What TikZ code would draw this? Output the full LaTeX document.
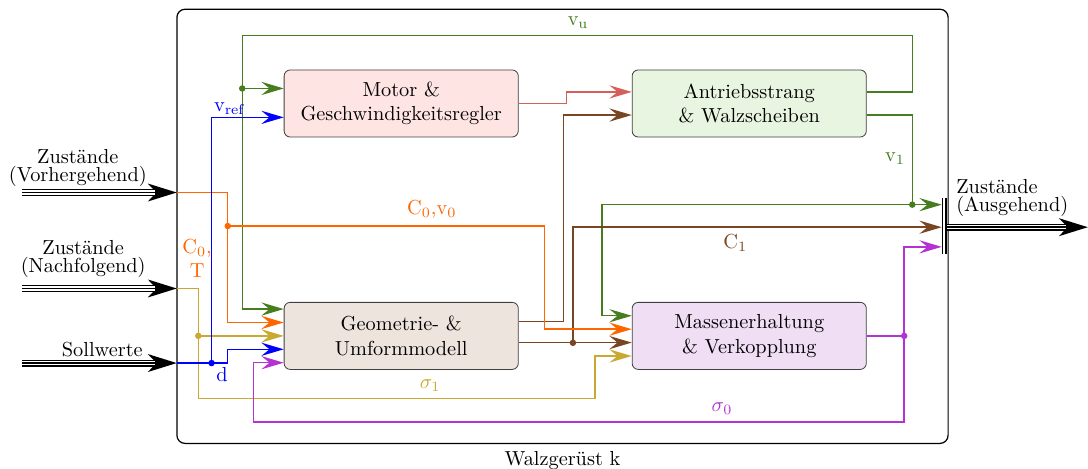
\documentclass[tikz,border=0pt]{standalone}
\usetikzlibrary{arrows.meta}
\definecolor{cgreen}{RGB}{70,125,30}
\definecolor{corange}{RGB}{255,102,0}
\definecolor{cbrown}{RGB}{120,70,35}
\definecolor{cred}{RGB}{215,95,90}
\definecolor{cblue}{RGB}{0,0,255}
\definecolor{cyellow}{RGB}{200,170,50}
\definecolor{cpurple}{RGB}{180,50,210}
\definecolor{fmotor}{RGB}{255,228,228}
\definecolor{fantrieb}{RGB}{232,245,224}
\definecolor{fgeom}{RGB}{238,228,222}
\definecolor{fmassen}{RGB}{240,222,245}
\begin{document}
\begin{tikzpicture}[
  block/.style={draw=black!75, rounded corners=3pt, minimum width=4.05cm, minimum height=1.16cm, align=center, inner sep=2pt},
  sig/.style={line width=0.7pt, -{Stealth[length=11pt,width=6.5pt,inset=4pt]}},
  triple/.style={line width=3.4pt, -{Stealth[length=14pt,width=8.5pt,inset=4pt]},
    postaction={draw=white, line width=2pt, -, shorten >=11pt},
    postaction={draw=black, line width=0.7pt, -, shorten >=10pt}},
  lbl/.style={inner sep=1pt}
]
\useasboundingbox (0,0) rectangle (18.82,8.10);

  % Rahmen
  \node[draw, rounded corners=4pt, minimum width=13.34cm, minimum height=7.51cm, semithick] (frame) at (9.73,4.185) {};
  \node[below] (lblFrame) at (frame.south) {Walzgerüst k};

  % Bloecke
  \node[block, fill=fmotor]   (motor)   at (6.94,6.31)  {Motor \&\\Geschwindigkeitsregler};
  \node[block, fill=fantrieb] (antrieb) at (12.96,6.31) {Antriebsstrang\\\& Walzscheiben};
  \node[block, fill=fgeom]    (geom)    at (6.94,2.29)  {Geometrie- \&\\Umformmodell};
  \node[block, fill=fmassen]  (massen)  at (12.96,2.29) {Massenerhaltung\\\& Verkopplung};

  % Ein- und Ausgaenge
  \coordinate (vorStart)  at (0.38,4.77);  \coordinate (vorIn)  at (3.06,4.77);
  \coordinate (nachStart) at (0.38,3.11);  \coordinate (nachIn) at (3.06,3.11);
  \coordinate (sollStart) at (0.38,1.82);  \coordinate (sollIn) at (3.06,1.82);
  \coordinate (bar) at (16.29,4.17);
  \coordinate (outStart) at (16.37,4.17);  \coordinate (outEnd) at (18.82,4.17);

  \draw[triple] (vorStart) -- (vorIn);
  \draw[triple] (nachStart) -- (nachIn);
  \draw[triple] (sollStart) -- (sollIn);
  \draw[triple] (outStart) -- (outEnd);
  \draw[semithick, double, double distance=1.2pt] (16.33,3.70) -- (16.33,4.67);

  \node[above left, lbl, align=center] (lblVor) at (2.58,4.825) {Zustände\\[-3pt](Vorhergehend)};
  \node[above left, lbl, align=center] (lblNach) at (2.56,3.255) {Zustände\\[-3pt](Nachfolgend)};
  \node[above left, lbl] (lblSoll) at (2.51,1.885) {Sollwerte};
  \node[above right, lbl, align=left] (lblAus) at (16.50,4.315) {Zustände\\[-3pt](Ausgehend)};

  % Verzweigungspunkte
  \coordinate (dotVu)   at (4.19,6.57);
  \coordinate (dotV1)   at (15.78,4.56);
  \coordinate (dotC0)   at (3.94,4.19);
  \coordinate (dotC1)   at (9.91,2.17);
  \coordinate (dotSig1) at (3.43,2.29);
  \coordinate (dotD)    at (3.66,1.82);
  \coordinate (dotSig0) at (15.64,2.29);

  % v_u
  \draw[sig, cgreen] ([yshift=0.20cm]antrieb.east) -| (15.78,7.49) -- (4.19,7.49) |- ([yshift=0.464cm]geom.west);
  \draw[sig, cgreen] (dotVu) -- (dotVu -| motor.west);
  \fill[cgreen] (dotVu) circle (1.6pt);
  \node[cgreen, above] (lblVu) at (10.0,7.49) {v$_\mathrm{u}$};

  % v_1
  \draw[sig, cgreen] ([yshift=-0.20cm]antrieb.east) -| (dotV1) -- (dotV1 -| bar);
  \draw[sig, cgreen] (dotV1) -- (10.41,4.56) |- ([yshift=0.348cm]massen.west);
  \fill[cgreen] (dotV1) circle (1.6pt);
  \node[cgreen, left] (lblV1) at (15.78,5.36) {v$_1$};

  % Motor -> Antrieb
  \draw[sig, cred] (motor.east) -- (9.80,6.31) |- ([yshift=0.20cm]antrieb.west);

  % C_1
  \draw[sig, cbrown] ([yshift=0.25cm]geom.east) -- ++(0.78,0) |- ([yshift=-0.20cm]antrieb.west);
  \draw[sig, cbrown] ([yshift=-0.116cm]geom.east) -- ([yshift=-0.116cm]massen.west);
  \draw[sig, cbrown] (dotC1) |- (bar);
  \fill[cbrown] (dotC1) circle (1.6pt);
  \node[cbrown, below] (lblC1) at (12.72,4.17) {C$_1$};

  % C_0
  \draw[sig, corange] (vorIn) -- (3.94,4.77) |- ([yshift=0.232cm]geom.west);
  \draw[sig, corange] (dotC0) -- (9.42,4.19) |- ([yshift=0.116cm]massen.west);
  \fill[corange] (dotC0) circle (1.6pt);
  \node[corange, above] (lblC0v0) at (7.47,4.19) {C$_0$,v$_0$};
  \node[corange, align=center] (lblC0T) at (3.41,3.63) {C$_0$,\\T};

  % sigma_1
  \draw[sig, cyellow] (nachIn) -- (3.43,3.11) |- (10.29,1.21) |- ([yshift=-0.348cm]massen.west);
  \draw[sig, cyellow] (dotSig1) -- (dotSig1 -| geom.west);
  \fill[cyellow] (dotSig1) circle (1.6pt);
  \node[cyellow, above] (lblSig1) at (7.44,1.21) {$\sigma_1$};

  % d, v_ref
  \draw[sig, cblue] (sollIn) -- (3.94,1.82) |- ([yshift=-0.232cm]geom.west);
  \draw[sig, cblue] (dotD) |- ([yshift=-0.24cm]motor.west);
  \fill[cblue] (dotD) circle (1.6pt);
  \node[cblue, above right, lbl] (lblVref) at (3.66,6.07) {v$_\mathrm{ref}$};
  \node[cblue, below right, lbl] (lblD) at (3.70,1.78) {d};

  % sigma_0
  \draw[sig, cpurple] (massen.east) -- (dotSig0) |- (4.38,0.80) |- ([yshift=-0.464cm]geom.west);
  \draw[sig, cpurple] (dotSig0) |- ([yshift=-0.34cm]bar);
  \fill[cpurple] (dotSig0) circle (1.6pt);
  \node[cpurple, above] (lblSig0) at (12.49,0.80) {$\sigma_0$};
\end{tikzpicture}
\end{document}
